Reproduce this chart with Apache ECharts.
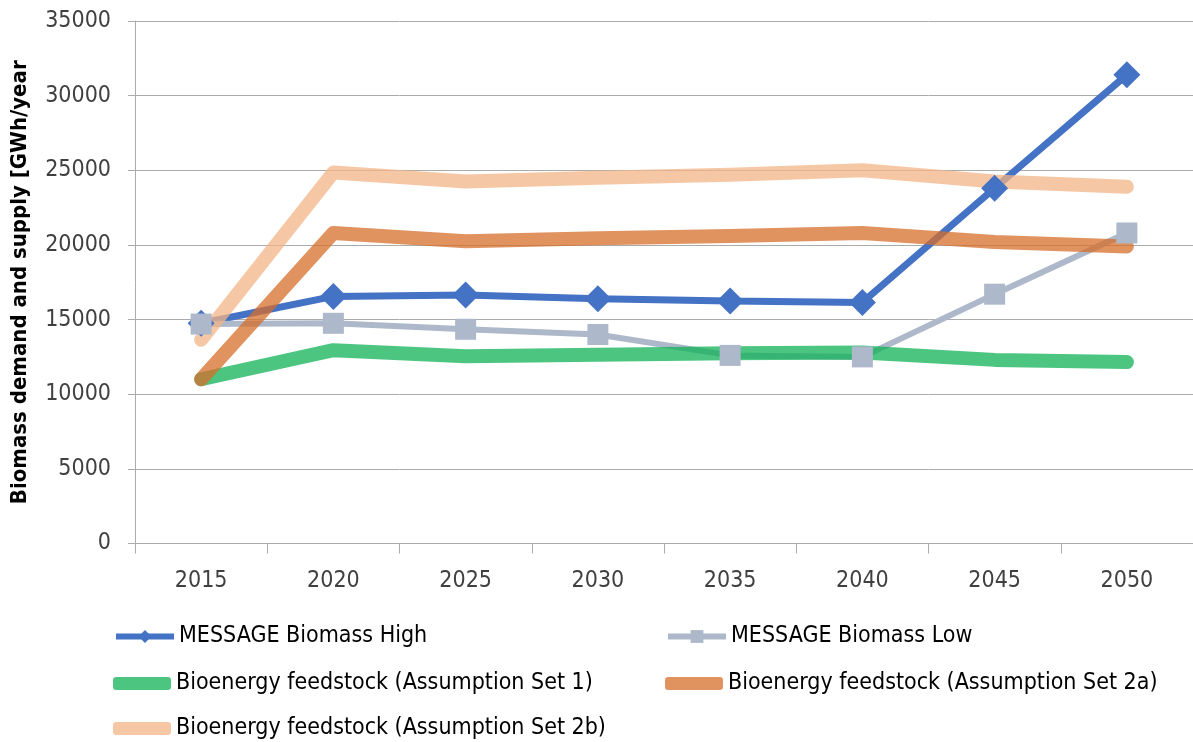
<!DOCTYPE html>
<html>
<head>
<meta charset="utf-8">
<script src="https://cdn.jsdelivr.net/npm/echarts@6/dist/echarts.min.js"></script>
<style>
  html, body { margin: 0; padding: 0; background: #fff; }
  #chart { width: 1193px; height: 742px; }
</style>
</head>
<body>
<div id="chart"></div>
<script>
const years = ['2015', '2020', '2025', '2030', '2035', '2040', '2045', '2050']
const yTicks = { min: 0, max: 35000, step: 5000 }

const messageHigh = [14750, 16550, 16650, 16400, 16250, 16150, 23800, 31400]
const messageLow = [14700, 14750, 14350, 14000, 12600, 12500, 16700, 20800]
const set1 = [11000, 12950, 12550, 12650, 12750, 12800, 12300, 12150]
const set2a = [11000, 20800, 20250, 20450, 20600, 20800, 20200, 19900]
const set2b = [13650, 24850, 24250, 24500, 24700, 25000, 24250, 23900]

const names = [
  'MESSAGE Biomass High',
  'MESSAGE Biomass Low',
  'Bioenergy feedstock (Assumption Set 1)',
  'Bioenergy feedstock (Assumption Set 2a)',
  'Bioenergy feedstock (Assumption Set 2b)'
]

const font = "'DejaVu Sans Condensed', 'Liberation Sans Narrow', 'Open Sans', sans-serif"
const gridColor = '#ABABAB'
const textColor = '#404040'

function thickLine(name, data, color) {
  return {
    name: name,
    type: 'line',
    data: data,
    showSymbol: false,
    symbol: 'none',
    lineStyle: { width: 14, color: color, cap: 'round', join: 'round' },
    itemStyle: { color: color }
  }
}

// one legend per entry so they sit in two columns like the original
function legendAt(name, left, top, thick) {
  const l = {
    data: [name],
    left: left,
    top: top,
    padding: 0,
    itemWidth: 58,
    itemHeight: thick ? 13 : 16,
    itemGap: 2,
    textStyle: { fontFamily: font, fontSize: 23, color: '#000' }
  }
  if (thick) {
    l.icon = 'roundRect'
  } else {
    l.lineStyle = { width: 6 }
  }
  return l
}

const chart = echarts.init(document.getElementById('chart'))
chart.setOption({
  animation: false,
  grid: { left: 135, top: 21, width: 1060, height: 522.5 },
  legend: [
    legendAt(names[0], 113, 625, false),
    legendAt(names[1], 665, 625, false),
    legendAt(names[2], 113, 672, true),
    legendAt(names[3], 665, 672, true),
    legendAt(names[4], 113, 717, true)
  ],
  xAxis: {
    type: 'category',
    data: years,
    boundaryGap: true,
    axisLine: { lineStyle: { color: gridColor, width: 1 } },
    axisTick: { show: true, length: 10, lineStyle: { color: gridColor } },
    axisLabel: { fontFamily: font, fontSize: 23, color: textColor, margin: 26 }
  },
  yAxis: {
    type: 'value',
    min: yTicks.min,
    max: yTicks.max,
    interval: yTicks.step,
    name: 'Biomass demand and supply [GWh/year',
    nameLocation: 'middle',
    nameGap: 104,
    nameTextStyle: { fontFamily: font, fontSize: 22, fontWeight: 'bold', color: '#000' },
    axisLine: { show: true, lineStyle: { color: gridColor } },
    axisTick: { show: true, length: 7, lineStyle: { color: gridColor } },
    splitLine: { lineStyle: { color: gridColor, width: 1 } },
    axisLabel: {
      fontFamily: font, fontSize: 23, color: textColor, margin: 24,
      formatter: v => String(v)
    }
  },
  series: [
    {
      name: names[0],
      type: 'line',
      data: messageHigh,
      symbol: 'diamond',
      symbolSize: 27,
      lineStyle: { width: 7, color: '#4472C4' },
      itemStyle: { color: '#4472C4' }
    },
    {
      name: names[1],
      type: 'line',
      data: messageLow,
      symbol: 'rect',
      symbolSize: 21,
      lineStyle: { width: 6, color: '#ADB9CA' },
      itemStyle: { color: '#ADB9CA' }
    },
    thickLine(names[2], set1, 'rgba(16,178,87,0.75)'),
    thickLine(names[3], set2a, 'rgba(214,110,42,0.75)'),
    thickLine(names[4], set2b, 'rgba(243,180,134,0.75)')
  ]
})
</script>
</body>
</html>
